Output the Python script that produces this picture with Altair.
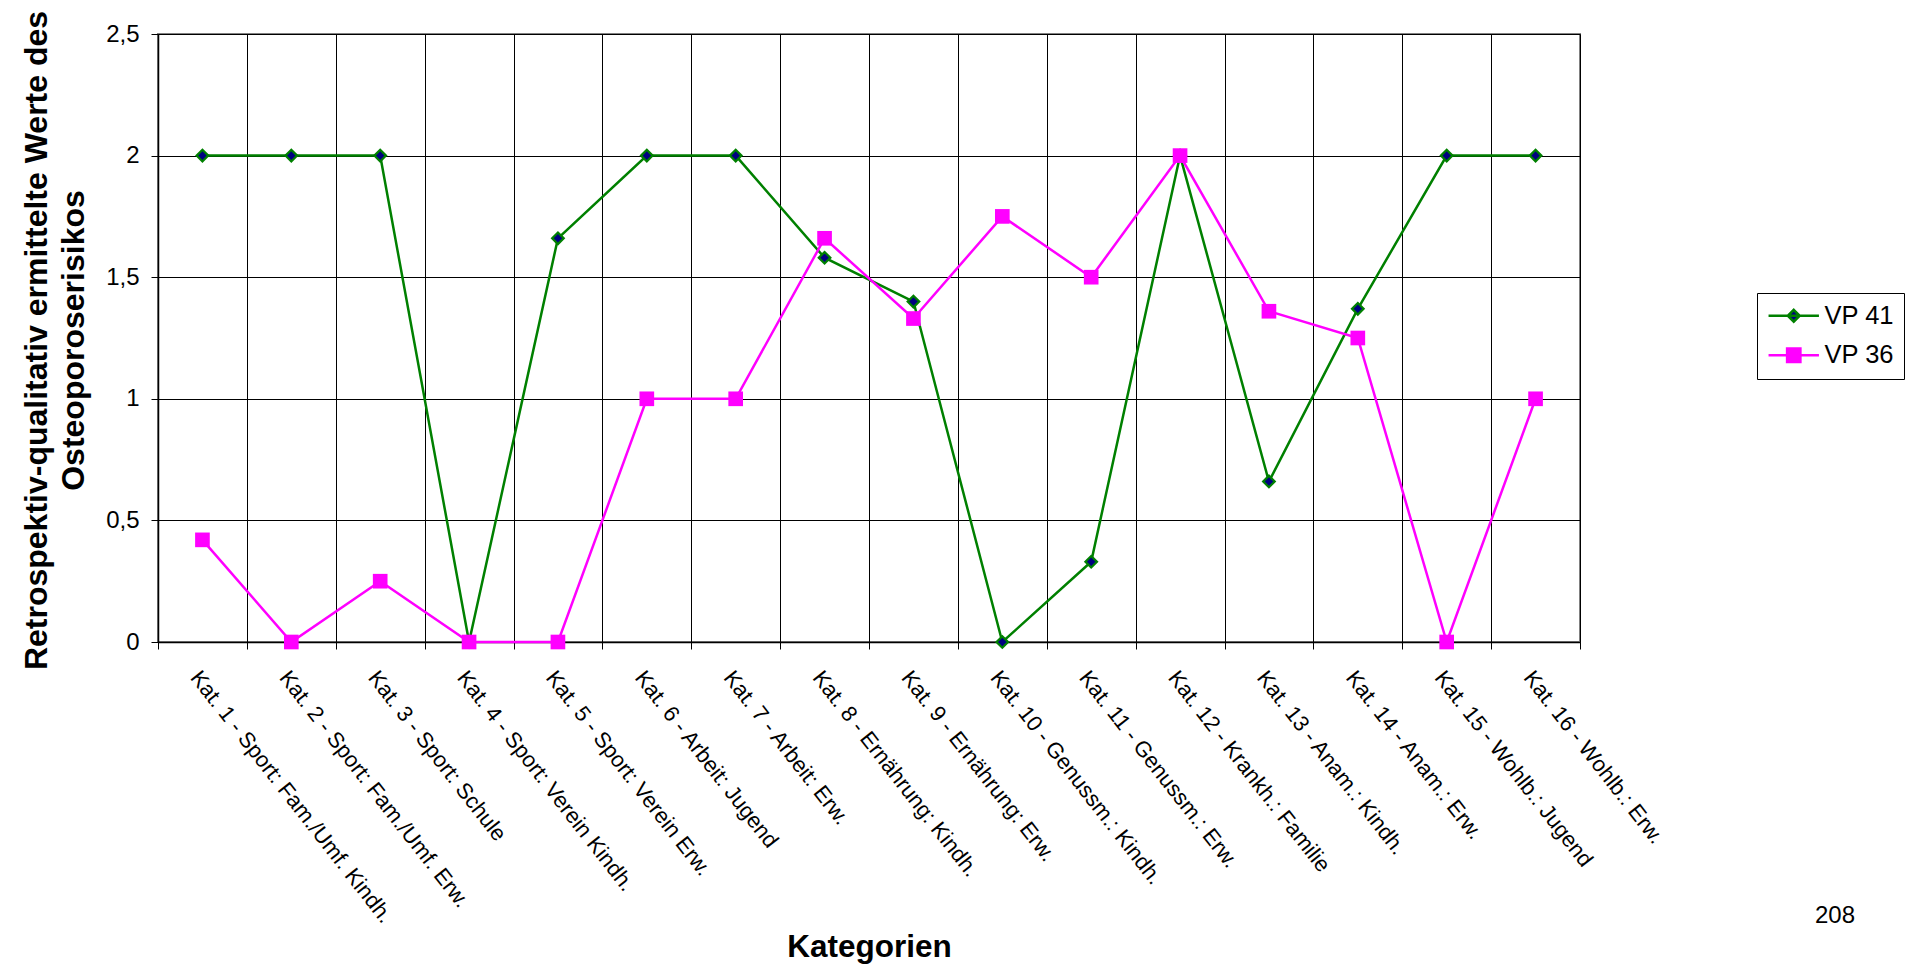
import altair as alt
import pandas as pd

FONT = "Liberation Sans"

categories = [
    "Kat. 1 - Sport: Fam./Umf. Kindh.",
    "Kat. 2 - Sport: Fam./Umf. Erw.",
    "Kat. 3 - Sport: Schule",
    "Kat. 4 - Sport: Verein Kindh.",
    "Kat. 5 - Sport: Verein Erw.",
    "Kat. 6 - Arbeit: Jugend",
    "Kat. 7 - Arbeit: Erw.",
    "Kat. 8 - Ernährung: Kindh.",
    "Kat. 9 - Ernährung: Erw.",
    "Kat. 10 - Genussm.: Kindh.",
    "Kat. 11 - Genussm.: Erw.",
    "Kat. 12 - Krankh.: Familie",
    "Kat. 13 - Anam.: Kindh.",
    "Kat. 14 - Anam.: Erw.",
    "Kat. 15 - Wohlb.: Jugend",
    "Kat. 16 - Wohlb.: Erw.",
]
vp41 = [2, 2, 2, 0, 1.66, 2, 2, 1.58, 1.40, 0, 0.33, 2, 0.66, 1.37, 2, 2]
vp36 = [0.42, 0, 0.25, 0, 0, 1, 1, 1.66, 1.33, 1.75, 1.5, 2, 1.36, 1.25, 0, 1]
series_names = ["VP 41", "VP 36"]
series_colors = ["#008000", "#FF00FF"]
y_ticks = [0, 0.5, 1, 1.5, 2, 2.5]
y_title = ["Retrospektiv-qualitativ ermittelte Werte des", "Osteoporoserisikos"]
x_title = "Kategorien"
page_number = "208"

df = pd.DataFrame(
    {
        "Kategorie": categories * 2,
        "Wert": vp41 + vp36,
        "Serie": [series_names[0]] * len(categories) + [series_names[1]] * len(categories),
    }
)

W, H = 1422, 608

x_axis = alt.Axis(
    title=x_title,
    titleFont=FONT, titleFontSize=31.5, titleFontWeight="bold", titleColor="black",
    titleX=W / 2, titleY=314, titleAlign="center", titleBaseline="alphabetic",
    labelFont=FONT, labelFontSize=22, labelColor="black",
    labelAngle=52, labelAlign="left", labelBaseline="top",
    labelPadding=18, labelLimit=1000, labelOverlap=False,
    tickBand="extent", tickSize=7, tickColor="black", tickWidth=1,
    domainColor="black", domainWidth=1.5,
    grid=True, gridColor="black", gridWidth=1, gridOpacity=1,
)
y_axis = alt.Axis(
    title=y_title,
    titleFont=FONT, titleFontSize=32, titleFontWeight="bold", titleColor="black",
    titleAngle=-90, titleX=-122, titleY=H / 2 + 2, titleAlign="center",
    titleBaseline="middle", titleLineHeight=37,
    values=y_ticks,
    labelExpr="replace(toString(datum.value), '.', ',')",
    labelFont=FONT, labelFontSize=24, labelColor="black", labelPadding=12,
    tickSize=7, tickColor="black", tickWidth=1,
    domainColor="black", domainWidth=1.5,
    grid=True, gridColor="black", gridWidth=1, gridOpacity=1,
)

x_enc = alt.X(
    "Kategorie:N", sort=categories, bandPosition=0.5,
    scale=alt.Scale(type="band", domain=categories, paddingInner=0, paddingOuter=0),
    axis=x_axis,
)
y_enc = alt.Y("Wert:Q", scale=alt.Scale(domain=[0, 2.5], nice=False, zero=True), axis=y_axis)

is41 = "datum.value === 'VP 41'"
legend = alt.Legend(
    title=None, orient="none", legendX=1599, legendY=259, direction="vertical",
    fillColor="white", strokeColor="black", padding=10,
    labelFont=FONT, labelFontSize=25.5, labelColor="black",
    labelOffset=18, symbolOffset=14, rowPadding=12.5,
    symbolSize=196, symbolStrokeWidth=2.5,
    symbolType={"expr": f"{is41} ? 'M-3.6,0H3.6M0,-0.85L0.85,0L0,0.85L-0.85,0Z' : 'M-3.6,0H3.6M-0.95,-0.95H0.95V0.95H-0.95Z'"},
    symbolFillColor={"expr": f"{is41} ? '#000080' : '#FF00FF'"},
)
color_enc = alt.Color(
    "Serie:N", scale=alt.Scale(domain=series_names, range=series_colors), legend=legend
)

base = alt.Chart(df)

line41 = base.transform_filter(alt.datum.Serie == "VP 41").mark_line(strokeWidth=2.5).encode(
    x=x_enc, y=y_enc, color=color_enc
)
pts41 = base.transform_filter(alt.datum.Serie == "VP 41").mark_point(
    shape="diamond", filled=True, fill="#000080", stroke="#008000", strokeWidth=2.2,
    size=135, opacity=1,
).encode(x=x_enc, y=y_enc)
line36 = base.transform_filter(alt.datum.Serie == "VP 36").mark_line(strokeWidth=2.5).encode(
    x=x_enc, y=y_enc, color=color_enc
)
pts36 = base.transform_filter(alt.datum.Serie == "VP 36").mark_point(
    shape="square", filled=True, color="#FF00FF", size=215, opacity=1,
).encode(x=x_enc, y=y_enc)

page = alt.Chart(pd.DataFrame({"t": [page_number]})).mark_text(
    font=FONT, fontSize=24, color="black", align="center", baseline="alphabetic"
).encode(text="t:N", x=alt.value(1677), y=alt.value(889))

chart = (
    alt.layer(line41, pts41, line36, pts36, page)
    .properties(
        width=W, height=H,
        padding={"left": 158, "top": 34, "right": 1908 - 158 - W, "bottom": 966 - 34 - H},
        autosize=alt.AutoSizeParams(type="none"),
        background="white",
    )
    .configure_view(stroke="#808080", strokeWidth=2)
)

chart.save("out.html", embed_options={"renderer": "svg", "actions": False})
